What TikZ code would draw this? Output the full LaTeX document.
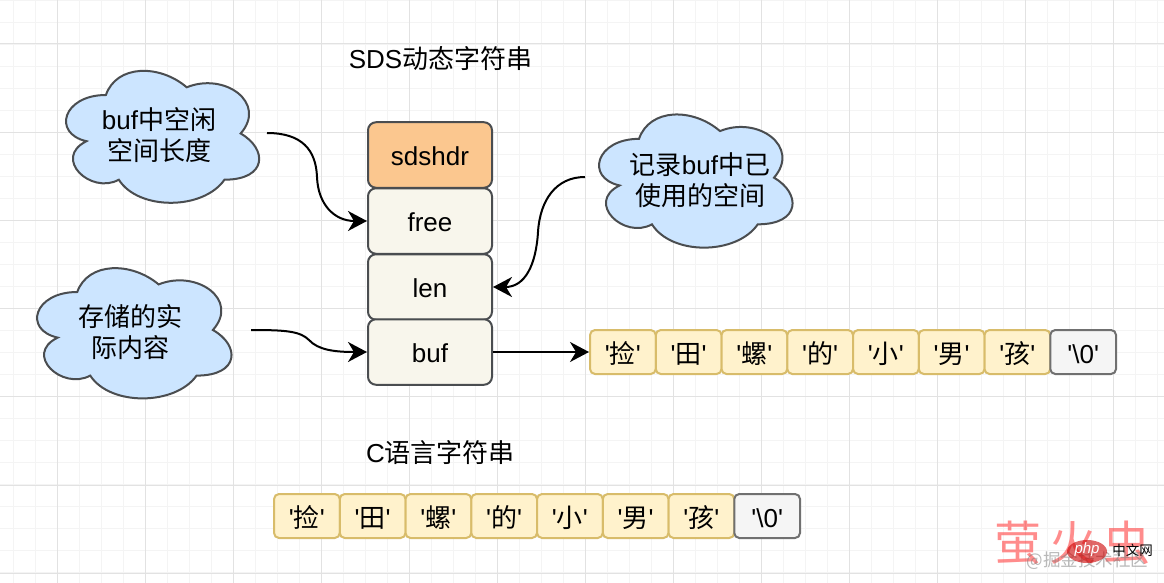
\documentclass[tikz,border=0pt]{standalone}
\usepackage{fontspec}
\setmainfont{Liberation Sans}
\newfontfamily\pl{Liberation Sans}
\newfontfamily\cjk{Noto Sans CJK SC}
\newcommand{\C}[1]{{\cjk #1}}
\usetikzlibrary{arrows.meta}
\definecolor{gridmajor}{HTML}{E2E2E2}
\definecolor{gridminor}{HTML}{F4F4F4}
\definecolor{edgedark}{HTML}{4A4D50}
\definecolor{boxorange}{HTML}{FBC78F}
\definecolor{boxbeige}{HTML}{F8F6EC}
\definecolor{boxblue}{HTML}{CCE5FF}
\definecolor{boxyellow}{HTML}{FFF2CC}
\definecolor{edgeyellow}{HTML}{D8BC6A}
\definecolor{boxgray}{HTML}{F5F5F5}
\definecolor{edgegray}{HTML}{707070}
\tikzset{
  stackbox/.style={draw=edgedark,line width=2pt,rounded corners=8pt,minimum width=124pt,minimum height=65.5pt,inner sep=0pt,text height=20pt,text depth=0pt,font=\fontsize{26}{30}\selectfont},
  cell/.style={draw=edgeyellow,fill=boxyellow,line width=2pt,rounded corners=5pt,minimum width=65.75pt,minimum height=44pt,inner sep=0pt,text height=23pt,text depth=0pt,font=\fontsize{26}{30}\selectfont\pl},
  endcell/.style={cell,draw=edgegray,fill=boxgray},
  cloudtext/.style={align=center,inner sep=0pt,font=\fontsize{26}{31}\selectfont},
  titletext/.style={inner sep=0pt,font=\fontsize{26}{30}\selectfont},
  conn/.style={draw=black,line width=2pt,-{Stealth[length=19pt,width=20pt,inset=6pt]}},
  cloudline/.style={draw=edgedark,fill=boxblue,line width=2pt}
}
\newcommand{\cloudat}[4]{%
  \draw[cloudline,shift={(#1,#2)},x=#3pt,y=-#4pt]
    (.25,.25) .. controls (.05,.25) and (0,.5) .. (.16,.55)
    .. controls (0,.66) and (.18,.9) .. (.31,.8)
    .. controls (.4,1) and (.7,1) .. (.8,.8)
    .. controls (1,.8) and (1,.6) .. (.875,.5)
    .. controls (1,.3) and (.8,.1) .. (.625,.2)
    .. controls (.5,.05) and (.3,.05) .. (.25,.25) -- cycle;}
\begin{document}
\begin{tikzpicture}[x=1pt,y=-1pt]
\useasboundingbox (0,0) rectangle (1164,583);
\fill[white] (0,0) rectangle (1164,583);
% grid
\foreach \i in {0,...,53} {\draw[gridminor,line width=.8pt] ({13+22*\i},0) -- ({13+22*\i},583);}
\foreach \i in {0,...,26} {\draw[gridminor,line width=.8pt] (0,{22*\i}) -- (1164,{22*\i});}
\foreach \i in {0,...,13} {\draw[gridmajor,line width=1pt] ({57+88*\i},0) -- ({57+88*\i},583);}
\foreach \i in {0,...,6} {\draw[gridmajor,line width=1pt] (0,{44+88.2*\i}) -- (1164,{44+88.2*\i});}
% titles
\node[titletext] (title1) at (440.5,59) {SDS\C{动态字符串}};
\node[titletext] (title2) at (440.5,453) {C\C{语言字符串}};
% clouds
\cloudat{52}{56.5}{215.6}{154}
\cloudat{23}{254}{217}{152}
\cloudat{585}{100}{216}{155.4}
\node[cloudtext] (cloudA) at (159,135.5) {buf\C{中空闲}\\\C{空间长度}};
\node[cloudtext] (cloudB) at (130,332.5) {\C{存储的实}\\\C{际内容}};
\node[cloudtext] (cloudC) at (700,180.5) {\C{记录}buf\C{中已}\\\C{使用的空间}};
% stack
\node[stackbox,fill=boxorange] (sdshdr) at (430,155) {sdshdr};
\node[stackbox,fill=boxbeige] (free) at (430,221) {free};
\node[stackbox,fill=boxbeige] (len) at (430,287) {len};
\node[stackbox,fill=boxbeige] (buf) at (430,352) {buf};
% strip 1
\foreach \n/\t [count=\i from 0] in {a/捡,b/田,c/螺,d/的,e/小,f/男,g/孩} {
  \node[cell] (s\n) at ({622.9+65.75*\i},352) {'\C{\t}'};
}
\node[endcell] (sh) at ({622.9+65.75*7},352) {'\textbackslash 0'};
% strip 2
\foreach \n/\t [count=\i from 0] in {a/捡,b/田,c/螺,d/的,e/小,f/男,g/孩} {
  \node[cell] (t\n) at ({306.9+65.75*\i},516) {'\C{\t}'};
}
\node[endcell] (th) at ({306.9+65.75*7},516) {'\textbackslash 0'};
% connectors
\coordinate (fromA) at (267,133);
\coordinate (fromB) at (251,330);
\coordinate (fromC) at (585,177);
\draw[conn] (fromA) .. controls (302,133) and (316,150) .. (317,177)
  .. controls (318,204) and (334,221) .. (free.west);
\draw[conn] (fromB) .. controls (285,330) and (300,331) .. (309,340)
  .. controls (318,350) and (335,352) .. (buf.west);
\draw[conn] (fromC) .. controls (556,177) and (540,200) .. (538,232)
  .. controls (536,265) and (525,287) .. (len.east);
\draw[conn] (buf.east) -- (sa.west);
% watermark
\node[inner sep=0pt,text=red!75!white,opacity=.6,font=\fontsize{47}{50}\cjk] (wm) at (1072.5,543) {萤\hspace{8pt}火\hspace{8pt}虫};
\node[inner sep=0pt,text=gray,opacity=.55,font=\fontsize{17.5}{20}\cjk] (jj) at (1087.5,561) {@掘金技术社区};
\fill[red!80!black,opacity=.6] (1087,551.5) ellipse [x radius=20,y radius=11.5];
\node[inner sep=0pt,text=white,font=\fontsize{15}{16}\selectfont\itshape] (php) at (1087,550) {php};
\node[inner sep=0pt,text=black,font=\fontsize{13.5}{15}\cjk] (cn) at (1132.5,550) {中文网};
\end{tikzpicture}
\end{document}
